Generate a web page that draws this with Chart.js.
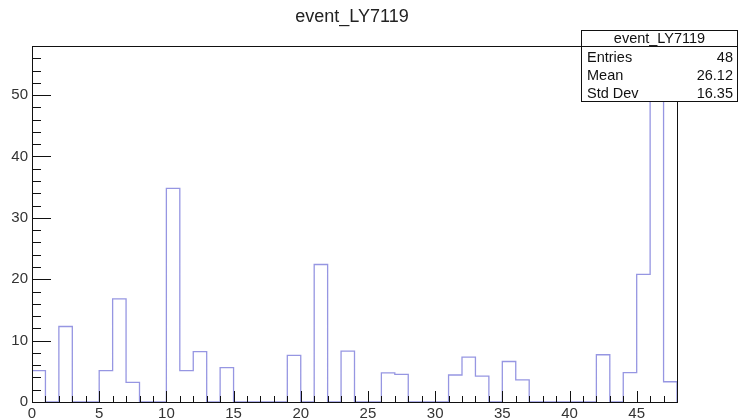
<!DOCTYPE html>
<html>
<head>
<meta charset="utf-8">
<script src="https://cdn.jsdelivr.net/npm/chart.js@4"></script>
<style>
  body { margin: 0; background: #fff; }
  #wrap { width: 741px; height: 419px; }
</style>
</head>
<body>
<div id="wrap"><canvas id="histo"></canvas></div>
<script>
// histogram name and contents, one value per unit-wide bin starting at 0
const histName = "event_LY7119"
const binValues = [5.1, 0, 12.3, 0, 0, 5.1, 16.8, 3.2, 0, 0,
                   34.8, 5.1, 8.2, 0, 5.6, 0, 0, 0, 0, 7.6,
                   0, 22.4, 0, 8.3, 0, 0, 4.75, 4.5, 0, 0,
                   0, 4.4, 7.3, 4.2, 0, 6.6, 3.6, 0, 0, 0,
                   0, 0, 7.7, 0, 4.8, 20.8, 55, 3.3]
const xRange = [0, 48]
const yRange = [0, 58]

// stats box rows
const statLabels = ["Entries", "Mean", "Std Dev"]
const statValues = ["48", "26.12", "16.35"]

const FONT = "'Liberation Sans', Arial, Helvetica, sans-serif"
const lineColor = "rgb(150, 150, 226)"

// outline of the histogram as a step line over the bin edges
// (stepped 'before' keeps each point's value until the next edge)
let outline = [{x: xRange[0], y: 0}]
binValues.forEach((v, i) => outline.push({x: xRange[0] + i, y: v}))
outline.push({x: xRange[0] + binValues.length, y: binValues[binValues.length - 1]})
outline.push({x: xRange[0] + binValues.length, y: 0})

// frame, inner tick marks, title and stats box
const rootStyle = {
  id: "rootStyle",
  afterDatasetsDraw(chart) {
    const ctx = chart.ctx
    const a = chart.chartArea
    const xs = chart.scales.x, ys = chart.scales.y
    ctx.save()
    ctx.strokeStyle = "#111"
    ctx.lineWidth = 1
    ctx.strokeRect(a.left + 0.5, a.top + 0.5, a.right - a.left, a.bottom - a.top)

    ctx.beginPath()
    for (let v = yRange[0]; v <= yRange[1]; v += 2) {
      const py = Math.round(ys.getPixelForValue(v)) + 0.5
      const len = v % 10 === 0 ? 19 : 9
      ctx.moveTo(a.left, py)
      ctx.lineTo(a.left + len, py)
    }
    for (let v = xRange[0]; v <= xRange[1]; v += 1) {
      const px = Math.round(xs.getPixelForValue(v)) + 0.5
      const len = v % 5 === 0 ? 11 : 6
      ctx.moveTo(px, a.bottom)
      ctx.lineTo(px, a.bottom - len)
    }
    ctx.stroke()
    ctx.restore()
  },
  afterDraw(chart) {
    const ctx = chart.ctx
    ctx.save()
    // title
    ctx.fillStyle = "#222"
    ctx.font = "18px " + FONT
    ctx.textAlign = "center"
    ctx.textBaseline = "middle"
    ctx.fillText(histName, 352, 17)

    // stats box
    const bx = 581.5, by = 30.5, bw = 156, bh = 71
    ctx.fillStyle = "#fff"
    ctx.fillRect(bx, by, bw, bh)
    ctx.strokeStyle = "#111"
    ctx.lineWidth = 1
    ctx.strokeRect(bx, by, bw, bh)
    ctx.beginPath()
    ctx.moveTo(bx, 46.5)
    ctx.lineTo(bx + bw, 46.5)
    ctx.stroke()

    ctx.fillStyle = "#111"
    ctx.font = "14.5px " + FONT
    ctx.fillText(histName, bx + bw / 2, 39)
    const rowY = [58, 76, 93.5]
    statLabels.forEach((lab, i) => {
      ctx.textAlign = "left"
      ctx.fillText(lab, bx + 5.5, rowY[i])
      ctx.textAlign = "right"
      ctx.fillText(statValues[i], bx + bw - 4.5, rowY[i])
    })
    ctx.restore()
  }
}

const ctx = document.getElementById("histo")
let histoChart = new Chart(ctx, {
  type: "line",
  data: {
    datasets: [{
      label: histName,
      data: outline,
      stepped: "before",
      borderColor: lineColor,
      borderWidth: 1.3,
      pointRadius: 0,
      fill: false
    }]
  },
  options: {
    responsive: true,
    maintainAspectRatio: false,
    animation: false,
    layout: { padding: { top: 46, right: 64, left: 0, bottom: 0 } },
    plugins: {
      legend: { display: false },
      tooltip: { enabled: false },
      title: { display: false }
    },
    scales: {
      x: {
        type: "linear",
        min: xRange[0],
        max: xRange[1],
        afterBuildTicks: s => { s.ticks = s.ticks.filter(t => t.value % 5 === 0 && t.value < 48) },
        afterFit: s => { s.height = 17 },
        grid: { display: false, drawTicks: false },
        border: { display: false },
        ticks: { stepSize: 5, maxRotation: 0, padding: 3, color: "#333", font: { family: FONT, size: 15 } }
      },
      y: {
        min: yRange[0],
        max: yRange[1],
        afterBuildTicks: s => { s.ticks = s.ticks.filter(t => t.value % 10 === 0) },
        afterFit: s => { s.width = 32 },
        grid: { display: false, drawTicks: false },
        border: { display: false },
        ticks: { stepSize: 10, padding: 4, color: "#333", font: { family: FONT, size: 15 } }
      }
    }
  },
  plugins: [rootStyle]
})
</script>
</body>
</html>
